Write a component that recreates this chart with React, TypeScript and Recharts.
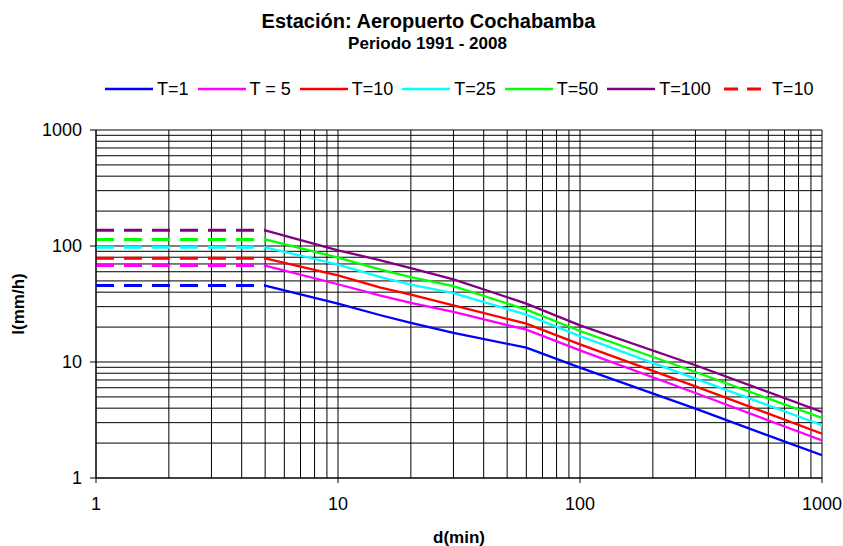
import { LineChart, Line, XAxis, YAxis, ReferenceLine, Label } from "recharts"

// duración (min) e intensidad (mm/h)
const durations = [5, 10, 15, 20, 30, 60, 100, 300, 1000]
const shortDurations = [1, 5]

const t1 = [45.6, 31.9, 25.3, 21.7, 17.8, 13.3, 8.94, 3.96, 1.57]
const t5 = [67.8, 46.8, 37.4, 32.3, 27.0, 19.0, 12.6, 5.4, 2.11]
const t10 = [78.3, 55.9, 43.8, 38.1, 30.8, 21.4, 14.2, 6.17, 2.41]
const t25 = [97.5, 69.2, 54.0, 46.5, 39.3, 25.6, 16.7, 7.2, 2.85]
const t50 = [114, 79.4, 62.6, 54.0, 45.0, 28.3, 18.5, 8.2, 3.29]
const t100 = [136.6, 91.8, 75.3, 64.6, 51.6, 31.9, 20.7, 9.37, 3.71]

const seriesNames = ["T=1", "T = 5", "T=10", "T=25", "T=50", "T=100"]
const seriesColors = ["#0000ff", "#ff00ff", "#ff0000", "#00ffff", "#00ff00", "#800080"]
const seriesValues = [t1, t5, t10, t25, t50, t100]
const dashedLegendName = "T=10"

const axisTicks = [1, 10, 100, 1000]
const gridValues = [
  1, 2, 3, 4, 5, 6, 7, 8, 9,
  10, 20, 30, 40, 50, 60, 70, 80, 90,
  100, 200, 300, 400, 500, 600, 700, 800, 900,
  1000,
]

const font = '"Liberation Sans", Arial, sans-serif'

const solidData = seriesValues.map((vals) => durations.map((d, i) => ({ d, i: vals[i] })))
// tramo constante de 1 a 5 min
const dashedData = seriesValues.map((vals) => shortDurations.map((d) => ({ d, i: vals[0] })))

function LegendIcon({ color, dashed }: { color: string; dashed?: boolean }) {
  return (
    <svg width={48} height={6} style={{ display: "block", marginRight: 4 }}>
      <line
        x1={dashed ? 4 : 0}
        y1={3}
        x2={48}
        y2={3}
        stroke={color}
        strokeWidth={dashed ? 3 : 2.5}
        strokeDasharray={dashed ? "14 9 14 40" : undefined}
      />
    </svg>
  )
}

export default function App() {
  return (
    <div
      style={{
        position: "absolute",
        left: 0,
        top: 0,
        width: 843,
        height: 546,
        background: "#fff",
        fontFamily: font,
        color: "#000",
      }}
    >
      <div style={{ position: "absolute", left: 0, width: 857, top: 10.5, textAlign: "center", fontSize: 20, lineHeight: "20px", fontWeight: "bold" }}>
        Estación: Aeropuerto Cochabamba
      </div>
      <div style={{ position: "absolute", left: 0, width: 855, top: 34.5, textAlign: "center", fontSize: 17, lineHeight: "17px", fontWeight: "bold" }}>
        Periodo 1991 - 2008
      </div>

      <div style={{ position: "absolute", left: 105, top: 80, display: "flex", alignItems: "center", fontSize: 18, lineHeight: "18px", whiteSpace: "nowrap" }}>
        {seriesNames.map((name, k) => (
          <div key={name} style={{ display: "flex", alignItems: "center", marginRight: 9 }}>
            <LegendIcon color={seriesColors[k]} />
            <span>{name}</span>
          </div>
        ))}
        <div style={{ display: "flex", alignItems: "center" }}>
          <LegendIcon color="#ff0000" dashed />
          <span>{dashedLegendName}</span>
        </div>
      </div>

      <LineChart width={843} height={546} margin={{ top: 130, right: 21, bottom: 38, left: 0 }} style={{ fontFamily: font }}>
        <XAxis
          type="number"
          dataKey="d"
          scale="log"
          domain={[1, 1000]}
          ticks={axisTicks}
          allowDataOverflow
          height={30}
          stroke="#000"
          tickSize={5}
          tickMargin={14}
          tick={{ fill: "#000", fontSize: 18 }}
        >
          <Label
            content={({ viewBox }: any) => (
              <text x={viewBox.x + viewBox.width / 2} y={viewBox.y + 65} textAnchor="middle" fontSize={17} fontWeight="bold" fill="#000">
                d(min)
              </text>
            )}
          />
        </XAxis>
        <YAxis
          type="number"
          scale="log"
          domain={[1, 1000]}
          ticks={axisTicks}
          allowDataOverflow
          width={96}
          stroke="#000"
          tickSize={6}
          tickMargin={8}
          tick={{ fill: "#000", fontSize: 18 }}
        >
          <Label
            content={({ viewBox }: any) => {
              const cx = 18
              const cy = viewBox.y + viewBox.height / 2
              return (
                <text x={cx} y={cy} transform={`rotate(-90 ${cx} ${cy})`} textAnchor="middle" dominantBaseline="central" fontSize={17} fontWeight="bold" fill="#000">
                  I(mm/h)
                </text>
              )
            }}
          />
        </YAxis>

        {gridValues.map((v) => (
          <ReferenceLine key={"h" + v} y={v} stroke="#000" strokeWidth={1} />
        ))}
        {gridValues.map((v) => (
          <ReferenceLine key={"v" + v} x={v} stroke="#000" strokeWidth={1} />
        ))}

        {dashedData.map((data, k) => (
          <Line
            key={"dash" + k}
            data={data}
            dataKey="i"
            stroke={seriesColors[k]}
            strokeWidth={3}
            strokeDasharray="18 10"
            dot={false}
            activeDot={false}
            isAnimationActive={false}
          />
        ))}
        {solidData.map((data, k) => (
          <Line
            key={"solid" + k}
            data={data}
            dataKey="i"
            stroke={seriesColors[k]}
            strokeWidth={2.3}
            dot={false}
            activeDot={false}
            isAnimationActive={false}
          />
        ))}
      </LineChart>
    </div>
  )
}
